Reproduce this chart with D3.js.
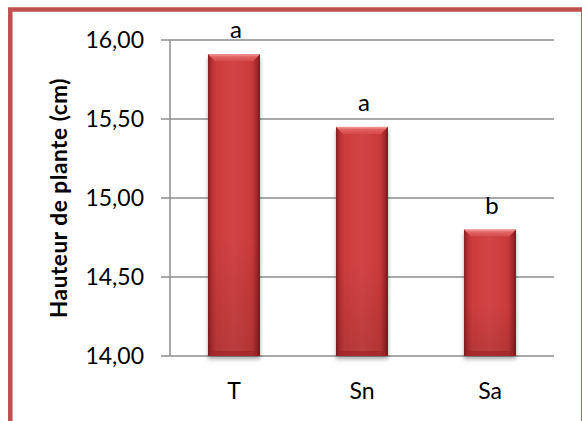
<!DOCTYPE html>
<html>
<head>
<meta charset="utf-8">
<script src="https://cdn.jsdelivr.net/npm/d3@7/dist/d3.min.js"></script>
<style>
  html, body { margin: 0; padding: 0; background: #fff; }
  svg { display: block; }
  text { font-family: Lato, "Open Sans", sans-serif; fill: #000; }
</style>
</head>
<body>
<script>
const categories = ["T", "Sn", "Sa"];
const values = [15.91, 15.45, 14.80];
const letters = ["a", "a", "b"];
const yTicks = [14.0, 14.5, 15.0, 15.5, 16.0];
const yTitle = "Hauteur de plante (cm)";

const W = 582, H = 421;
const svg = d3.select("body").append("svg").attr("width", W).attr("height", H);
const defs = svg.append("defs");

const hg = defs.append("linearGradient").attr("id", "barH").attr("x1", "0").attr("x2", "1").attr("y1", "0").attr("y2", "0");
[["0%", "#8a1c1e"], ["7%", "#b52f31"], ["16%", "#cc3c3d"], ["50%", "#d24445"], ["84%", "#c93a3b"], ["93%", "#a9292b"], ["100%", "#7e181a"]]
  .forEach(([o, c]) => hg.append("stop").attr("offset", o).attr("stop-color", c));
const vg = defs.append("linearGradient").attr("id", "barV").attr("x1", "0").attr("x2", "0").attr("y1", "0").attr("y2", "1");
[["0%", "#ffffff", 0.0], ["60%", "#000000", 0.0], ["100%", "#000000", 0.12]]
  .forEach(([o, c, a]) => vg.append("stop").attr("offset", o).attr("stop-color", c).attr("stop-opacity", a));
const tg = defs.append("linearGradient").attr("id", "bevel").attr("x1", "0").attr("x2", "0").attr("y1", "0").attr("y2", "1");
[["0%", "#f3a0a0"], ["35%", "#e46464"], ["100%", "#d44a4a"]]
  .forEach(([o, c]) => tg.append("stop").attr("offset", o).attr("stop-color", c));
const sh = defs.append("filter").attr("id", "shadow").attr("x", "-20%").attr("y", "-20%").attr("width", "140%").attr("height", "140%");
sh.append("feGaussianBlur").attr("in", "SourceAlpha").attr("stdDeviation", 2);
sh.append("feOffset").attr("dx", 0).attr("dy", 3).attr("result", "ob");
sh.append("feComponentTransfer").append("feFuncA").attr("type", "linear").attr("slope", 0.35);
const mg = sh.append("feMerge");
mg.append("feMergeNode");
mg.append("feMergeNode").attr("in", "SourceGraphic");

// frame
svg.append("rect").attr("x", 10.3).attr("y", 9.5).attr("width", 573).attr("height", 430)
  .attr("fill", "#fff").attr("stroke", "#c0504d").attr("stroke-width", 4.5);

const x = d3.scaleBand().domain(categories).range([170, 554]).paddingInner(0.594).paddingOuter(0.297);
const y = d3.scaleLinear().domain([14, 16]).range([356, 40]);

// gridlines
svg.append("g").selectAll("line").data(yTicks).join("line")
  .attr("x1", 161).attr("x2", 554)
  .attr("y1", d => y(d)).attr("y2", d => y(d))
  .attr("stroke", "#8c8c8c").attr("stroke-width", 1.5);
// y axis line
svg.append("line").attr("x1", 170).attr("x2", 170).attr("y1", y(16)).attr("y2", y(14))
  .attr("stroke", "#8c8c8c").attr("stroke-width", 1.5);

// y tick labels
svg.append("g").selectAll("text").data(yTicks).join("text")
  .attr("x", 144).attr("y", d => y(d)).attr("dy", "0.36em")
  .attr("text-anchor", "end").style("font-size", "23px")
  .text(d => d3.format(".2f")(d).replace(".", ","));

// bars
const data = categories.map((c, i) => ({ c, v: values[i], l: letters[i] }));
const bars = svg.append("g").selectAll("g").data(data).join("g");
bars.append("rect")
  .attr("x", d => x(d.c)).attr("width", x.bandwidth())
  .attr("y", d => y(d.v)).attr("height", d => y(14) - y(d.v))
  .attr("fill", "url(#barH)").attr("filter", "url(#shadow)");
bars.append("rect")
  .attr("x", d => x(d.c)).attr("width", x.bandwidth())
  .attr("y", d => y(d.v)).attr("height", d => y(14) - y(d.v))
  .attr("fill", "url(#barV)");
// top bevel
bars.append("path")
  .attr("d", d => {
    const x0 = x(d.c), x1 = x0 + x.bandwidth(), t = y(d.v), b = 7;
    return `M${x0},${t}L${x1},${t}L${x1 - b},${t + b}L${x0 + b},${t + b}Z`;
  })
  .attr("fill", "url(#bevel)");
// bottom bevel
bars.append("path")
  .attr("d", d => {
    const x0 = x(d.c), x1 = x0 + x.bandwidth(), bt = y(14), b = 5;
    return `M${x0},${bt}L${x1},${bt}L${x1 - b},${bt - b}L${x0 + b},${bt - b}Z`;
  })
  .attr("fill", "#9c2426").attr("opacity", 0.6);

// significance letters
bars.append("text")
  .attr("x", d => x(d.c) + x.bandwidth() / 2 + 2)
  .attr("y", d => y(d.v) - 16)
  .attr("text-anchor", "middle").style("font-size", "24px")
  .text(d => d.l);

// x labels
svg.append("g").selectAll("text").data(categories).join("text")
  .attr("x", d => x(d) + x.bandwidth() / 2).attr("y", 399)
  .attr("text-anchor", "middle").style("font-size", "23px")
  .text(d => d);

// y title
svg.append("text")
  .attr("transform", "translate(67,198) rotate(-90)")
  .attr("text-anchor", "middle").style("font-size", "22.5px").style("font-weight", "bold")
  .style("letter-spacing", "0.6px")
  .text(yTitle);
</script>
</body>
</html>
